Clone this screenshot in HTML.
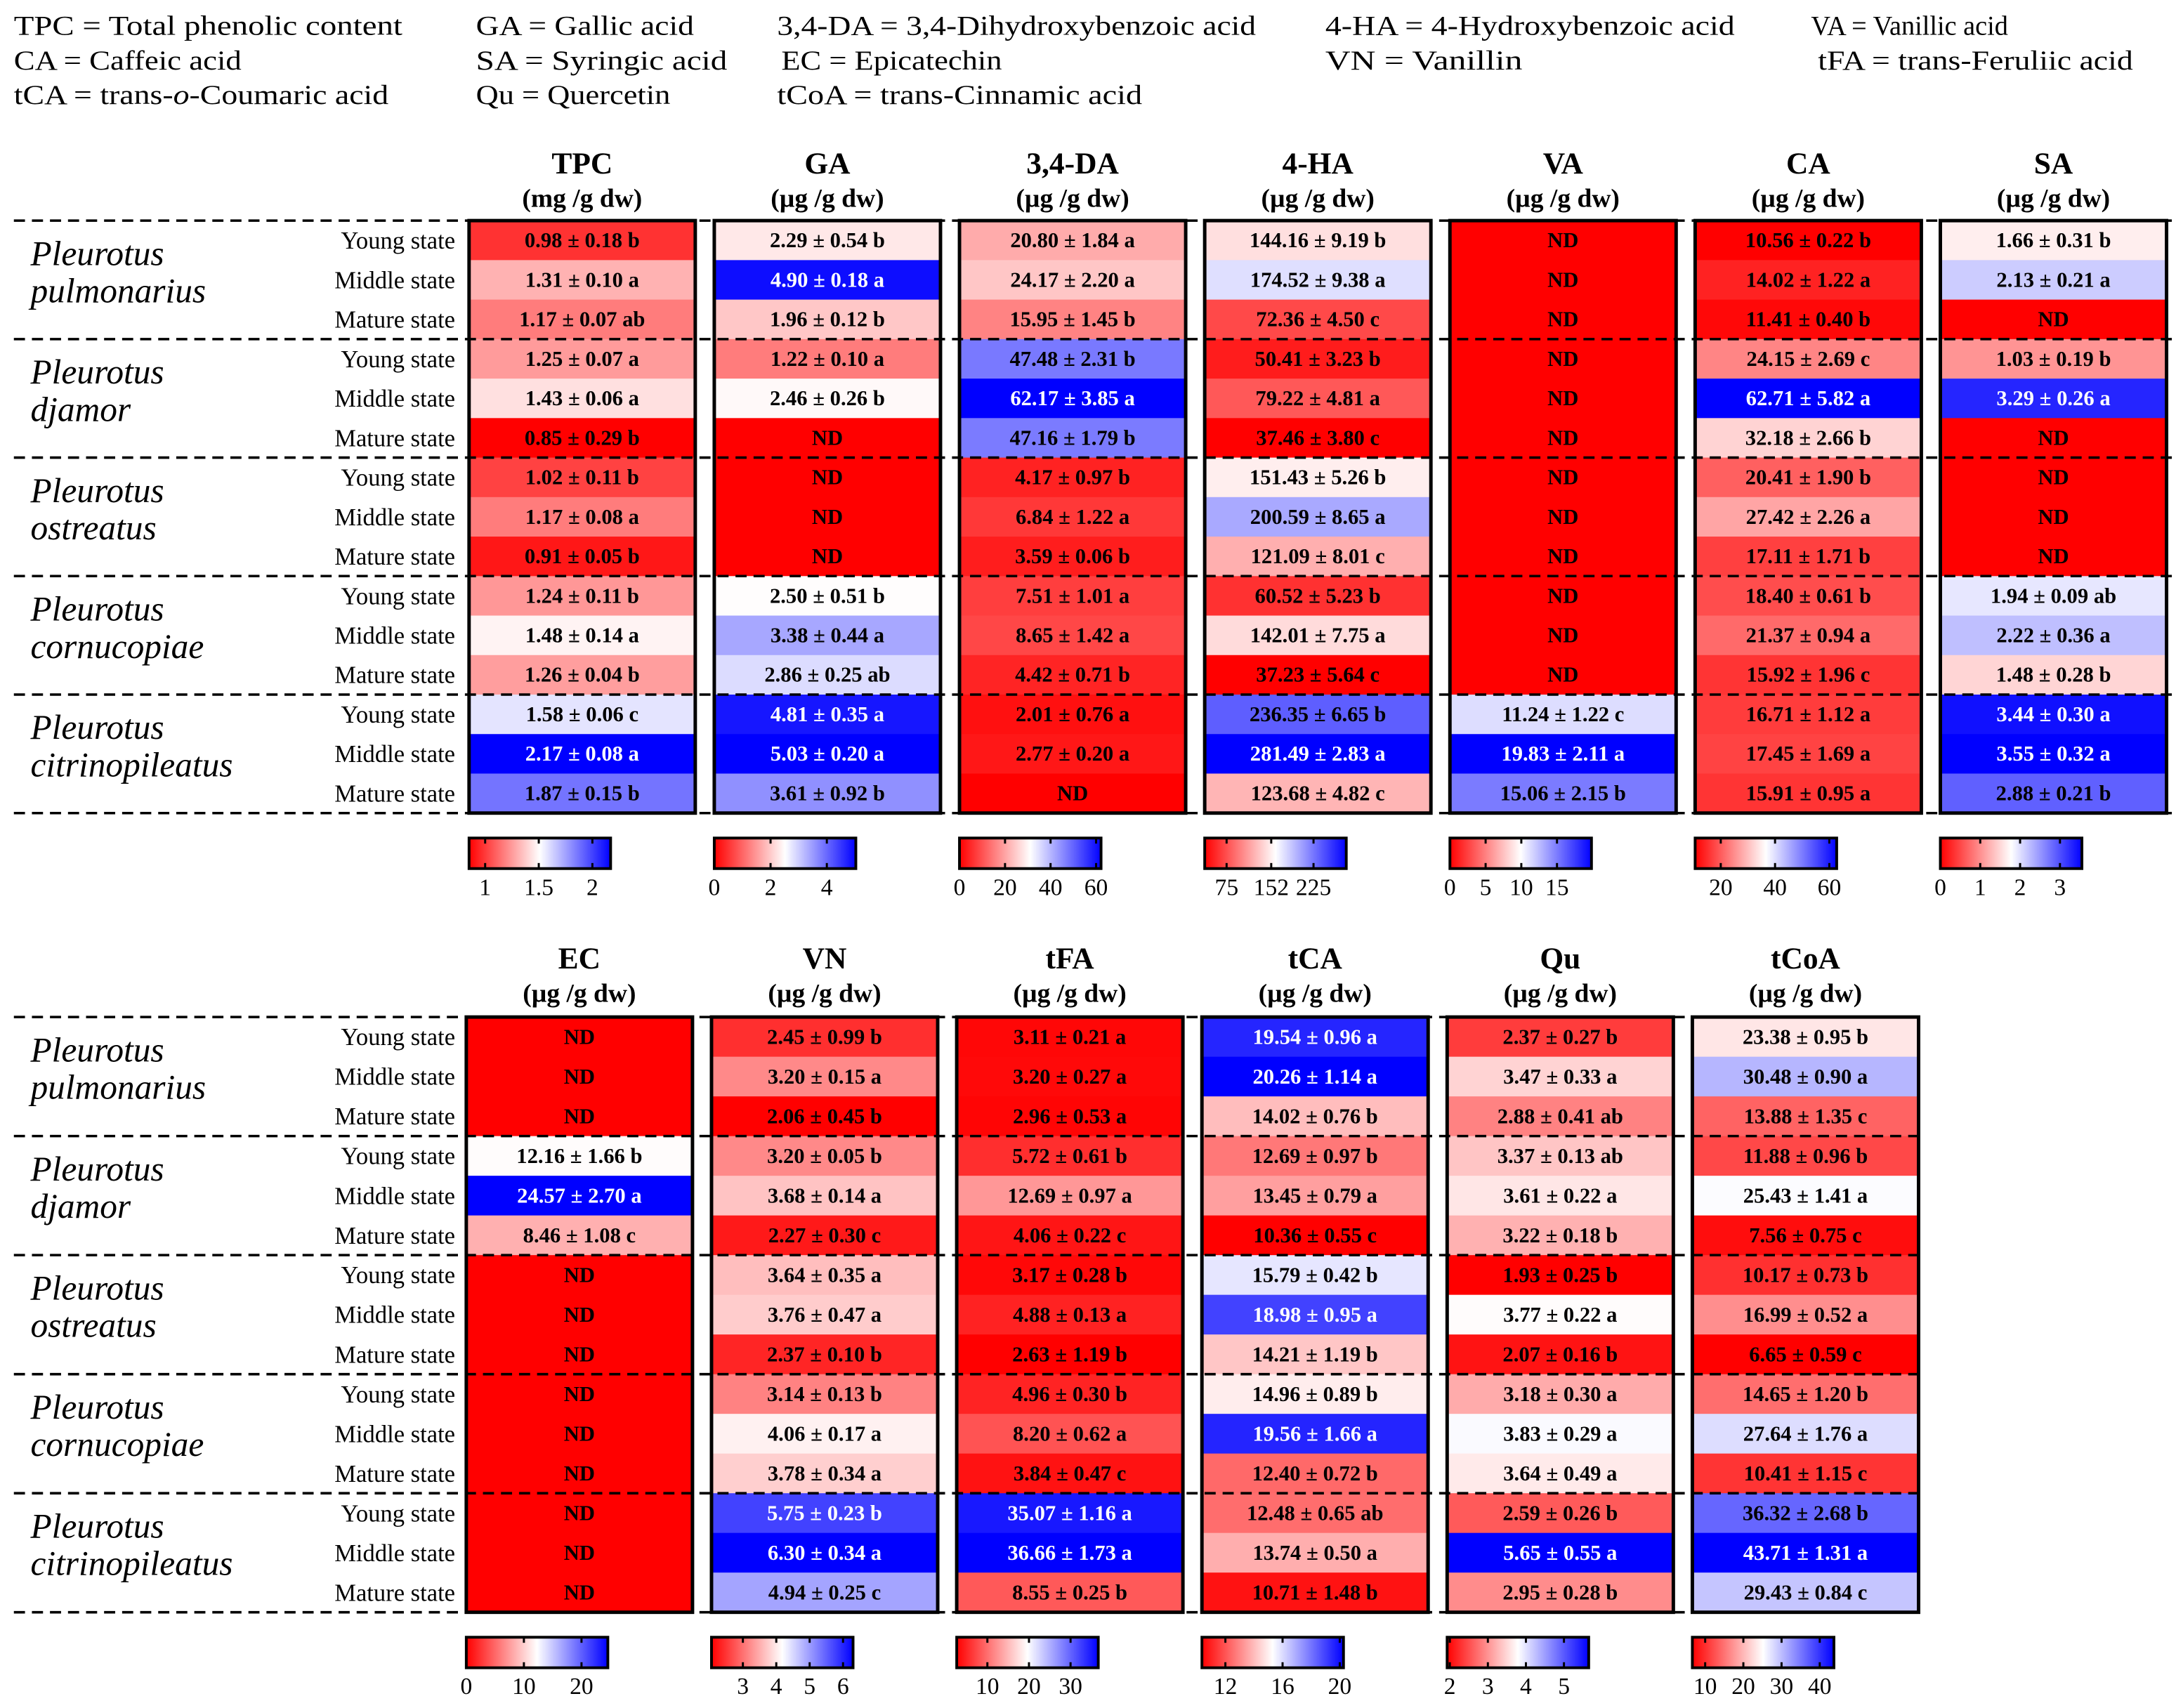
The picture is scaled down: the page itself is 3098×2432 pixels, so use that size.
<!DOCTYPE html>
<html><head><meta charset="utf-8"><style>
html,body{margin:0;padding:0;background:#fff;}
svg{display:block;}
text{font-family:"Liberation Serif",serif;}
</style></head><body>
<svg id="chart" width="3098" height="2432" viewBox="0 0 1568 1231" preserveAspectRatio="none" xmlns="http://www.w3.org/2000/svg">
<defs>
<linearGradient id="rwb" x1="0" x2="1" y1="0" y2="0">
<stop offset="0" stop-color="#ff0000"/><stop offset="0.5" stop-color="#ffffff"/><stop offset="1" stop-color="#0000ff"/>
</linearGradient>
</defs>
<g id="legend-text" font-size="20">
<text x="10" y="25" textLength="280" lengthAdjust="spacingAndGlyphs">TPC = Total phenolic content</text>
<text x="343" y="25" textLength="157" lengthAdjust="spacingAndGlyphs">GA = Gallic acid</text>
<text x="560" y="25" textLength="345" lengthAdjust="spacingAndGlyphs">3,4-DA = 3,4-Dihydroxybenzoic acid</text>
<text x="955" y="25" textLength="295" lengthAdjust="spacingAndGlyphs">4-HA = 4-Hydroxybenzoic acid</text>
<text x="1305" y="25" textLength="142" lengthAdjust="spacingAndGlyphs">VA = Vanillic acid</text>
<text x="10" y="50" textLength="164" lengthAdjust="spacingAndGlyphs">CA = Caffeic acid</text>
<text x="343" y="50" textLength="181" lengthAdjust="spacingAndGlyphs">SA =  Syringic acid</text>
<text x="563" y="50" textLength="159" lengthAdjust="spacingAndGlyphs">EC = Epicatechin</text>
<text x="955" y="50" textLength="142" lengthAdjust="spacingAndGlyphs">VN =  Vanillin</text>
<text x="1310" y="50" textLength="227" lengthAdjust="spacingAndGlyphs">tFA = trans-Feruliic acid</text>
<text x="10" y="75" textLength="270" lengthAdjust="spacingAndGlyphs">tCA = trans-<tspan font-style="italic">o</tspan>-Coumaric acid</text>
<text x="343" y="75" textLength="140" lengthAdjust="spacingAndGlyphs">Qu =  Quercetin</text>
<text x="560" y="75" textLength="263" lengthAdjust="spacingAndGlyphs">tCoA = trans-Cinnamic acid</text>
</g>
</svg>
<script>
// ---- data ----
const species = [["Pleurotus","pulmonarius"],["Pleurotus","djamor"],["Pleurotus","ostreatus"],["Pleurotus","cornucopiae"],["Pleurotus","citrinopileatus"]];
const stages = ["Young state","Middle state","Mature state"];
const colNames = ["TPC","GA","3,4-DA","4-HA","VA","CA","SA","EC","VN","tFA","tCA","Qu","tCoA"];
const colUnits = ["(mg /g dw)","(µg /g dw)","(µg /g dw)","(µg /g dw)","(µg /g dw)","(µg /g dw)","(µg /g dw)","(µg /g dw)","(µg /g dw)","(µg /g dw)","(µg /g dw)","(µg /g dw)","(µg /g dw)"];
const vTPC = ["0.98 ± 0.18 b","1.31 ± 0.10 a","1.17 ± 0.07 ab","1.25 ± 0.07 a","1.43 ± 0.06 a","0.85 ± 0.29 b","1.02 ± 0.11 b","1.17 ± 0.08 a","0.91 ± 0.05 b","1.24 ± 0.11 b","1.48 ± 0.14 a","1.26 ± 0.04 b","1.58 ± 0.06 c","2.17 ± 0.08 a","1.87 ± 0.15 b"];
const vGA = ["2.29 ± 0.54 b","4.90 ± 0.18 a","1.96 ± 0.12 b","1.22 ± 0.10 a","2.46 ± 0.26 b","ND","ND","ND","ND","2.50 ± 0.51 b","3.38 ± 0.44 a","2.86 ± 0.25 ab","4.81 ± 0.35 a","5.03 ± 0.20 a","3.61 ± 0.92 b"];
const vDA = ["20.80 ± 1.84 a","24.17 ± 2.20 a","15.95 ± 1.45 b","47.48 ± 2.31 b","62.17 ± 3.85 a","47.16 ± 1.79 b","4.17 ± 0.97 b","6.84 ± 1.22 a","3.59 ± 0.06 b","7.51 ± 1.01 a","8.65 ± 1.42 a","4.42 ± 0.71 b","2.01 ± 0.76 a","2.77 ± 0.20 a","ND"];
const vHA = ["144.16 ± 9.19 b","174.52 ± 9.38 a","72.36 ± 4.50 c","50.41 ± 3.23 b","79.22 ± 4.81 a","37.46 ± 3.80 c","151.43 ± 5.26 b","200.59 ± 8.65 a","121.09 ± 8.01 c","60.52 ± 5.23 b","142.01 ± 7.75 a","37.23 ± 5.64 c","236.35 ± 6.65 b","281.49 ± 2.83 a","123.68 ± 4.82 c"];
const vVA = ["ND","ND","ND","ND","ND","ND","ND","ND","ND","ND","ND","ND","11.24 ± 1.22 c","19.83 ± 2.11 a","15.06 ± 2.15 b"];
const vCA = ["10.56 ± 0.22 b","14.02 ± 1.22 a","11.41 ± 0.40 b","24.15 ± 2.69 c","62.71 ± 5.82 a","32.18 ± 2.66 b","20.41 ± 1.90 b","27.42 ± 2.26 a","17.11 ± 1.71 b","18.40 ± 0.61 b","21.37 ± 0.94 a","15.92 ± 1.96 c","16.71 ± 1.12 a","17.45 ± 1.69 a","15.91 ± 0.95 a"];
const vSA = ["1.66 ± 0.31 b","2.13 ± 0.21 a","ND","1.03 ± 0.19 b","3.29 ± 0.26 a","ND","ND","ND","ND","1.94 ± 0.09 ab","2.22 ± 0.36 a","1.48 ± 0.28 b","3.44 ± 0.30 a","3.55 ± 0.32 a","2.88 ± 0.21 b"];
const vEC = ["ND","ND","ND","12.16 ± 1.66 b","24.57 ± 2.70 a","8.46 ± 1.08 c","ND","ND","ND","ND","ND","ND","ND","ND","ND"];
const vVN = ["2.45 ± 0.99 b","3.20 ± 0.15 a","2.06 ± 0.45 b","3.20 ± 0.05 b","3.68 ± 0.14 a","2.27 ± 0.30 c","3.64 ± 0.35 a","3.76 ± 0.47 a","2.37 ± 0.10 b","3.14 ± 0.13 b","4.06 ± 0.17 a","3.78 ± 0.34 a","5.75 ± 0.23 b","6.30 ± 0.34 a","4.94 ± 0.25 c"];
const vFA = ["3.11 ± 0.21 a","3.20 ± 0.27 a","2.96 ± 0.53 a","5.72 ± 0.61 b","12.69 ± 0.97 a","4.06 ± 0.22 c","3.17 ± 0.28 b","4.88 ± 0.13 a","2.63 ± 1.19 b","4.96 ± 0.30 b","8.20 ± 0.62 a","3.84 ± 0.47 c","35.07 ± 1.16 a","36.66 ± 1.73 a","8.55 ± 0.25 b"];
const vTCA = ["19.54 ± 0.96 a","20.26 ± 1.14 a","14.02 ± 0.76 b","12.69 ± 0.97 b","13.45 ± 0.79 a","10.36 ± 0.55 c","15.79 ± 0.42 b","18.98 ± 0.95 a","14.21 ± 1.19 b","14.96 ± 0.89 b","19.56 ± 1.66 a","12.40 ± 0.72 b","12.48 ± 0.65 ab","13.74 ± 0.50 a","10.71 ± 1.48 b"];
const vQu = ["2.37 ± 0.27 b","3.47 ± 0.33 a","2.88 ± 0.41 ab","3.37 ± 0.13 ab","3.61 ± 0.22 a","3.22 ± 0.18 b","1.93 ± 0.25 b","3.77 ± 0.22 a","2.07 ± 0.16 b","3.18 ± 0.30 a","3.83 ± 0.29 a","3.64 ± 0.49 a","2.59 ± 0.26 b","5.65 ± 0.55 a","2.95 ± 0.28 b"];
const vTCoA = ["23.38 ± 0.95 b","30.48 ± 0.90 a","13.88 ± 1.35 c","11.88 ± 0.96 b","25.43 ± 1.41 a","7.56 ± 0.75 c","10.17 ± 0.73 b","16.99 ± 0.52 a","6.65 ± 0.59 c","14.65 ± 1.20 b","27.64 ± 1.76 a","10.41 ± 1.15 c","36.32 ± 2.68 b","43.71 ± 1.31 a","29.43 ± 0.84 c"];
const colValues = [vTPC,vGA,vDA,vHA,vVA,vCA,vSA,vEC,vVN,vFA,vTCA,vQu,vTCoA];
const tkTPC=[1,1.5,2], tkGA=[0,2,4], tkDA=[0,20,40,60], tkHA=[75,152,225], tkVA=[0,5,10,15], tkCA=[20,40,60], tkSA=[0,1,2,3];
const tkEC=[0,10,20], tkVN=[3,4,5,6], tkFA=[10,20,30], tkTCA=[12,16,20], tkQu=[2,3,4,5], tkTCoA=[10,20,30,40];
const colTicks=[tkTPC,tkGA,tkDA,tkHA,tkVA,tkCA,tkSA,tkEC,tkVN,tkFA,tkTCA,tkQu,tkTCoA];

// ---- drawing ----
const NS="http://www.w3.org/2000/svg";
const svg=document.getElementById('chart');
function mk(tag,attrs,parent){const e=document.createElementNS(NS,tag);for(const k in attrs)e.setAttribute(k,attrs[k]);(parent||svg).appendChild(e);return e;}
function num(s){return s==="ND"?0:parseFloat(s);}
function color(t){t=Math.max(0,Math.min(1,t));
  if(t<0.5){const f=t/0.5;const g=Math.round(255*f);return `rgb(255,${g},${g})`;}
  const f=(t-0.5)/0.5;const g=Math.round(255*(1-f));return `rgb(${g},${g},255)`;}

const panels=[{cols:[0,1,2,3,4,5,6],x0:338,top:159,gh:85.4,hy:125,dashEnd:1565},{cols:[7,8,9,10,11,12],x0:336,top:733,gh:85.8,hy:698,dashEnd:1383}];
const colStep=176.7, boxW=163, cbW=102, cbH=22;

panels.forEach((p,pi)=>{
  const bottom=p.top+p.gh*5;
  species.forEach((sp,gi)=>{
    const gy=p.top+gi*p.gh;
    const t1=mk('text',{x:22,y:gy+32,'font-size':25,'font-style':'italic',fill:'#000'});t1.textContent=sp[0];
    
    
    const t2=mk('text',{x:22,y:gy+59,'font-size':25,'font-style':'italic',fill:'#000'});t2.textContent=sp[1];
    
    
    stages.forEach((st,ri)=>{
      const cy=gy+p.gh/3*(ri+0.5);
      const t=mk('text',{x:328,y:cy+6,'font-size':17.5,'text-anchor':'end',fill:'#000'});t.textContent=st;
      
      
    });
  });
  p.cols.forEach((c,ci)=>{
    const x=p.x0+ci*colStep;
    const vals=colValues[c].map(num);
    const mn=Math.min(...vals), mx=Math.max(...vals);
    const sc=v=>(v-mn)/(mx-mn);
    const h1=mk('text',{x:x+boxW/2,y:p.hy,'font-size':22,'font-weight':'bold','text-anchor':'middle',fill:'#000'});h1.textContent=colNames[c];
    
    
    const h2=mk('text',{x:x+boxW/2,y:p.hy+24,'font-size':19,'font-weight':'bold','text-anchor':'middle',fill:'#000'});h2.textContent=colUnits[c];
    
    
    colValues[c].forEach((s,i)=>{
      const gi=Math.floor(i/3), ri=i%3;
      const y=p.top+gi*p.gh+p.gh/3*ri;
      const t=sc(vals[i]);
      const r=mk('rect',{x:x,y:y,width:boxW,height:p.gh/3+0.6,fill:color(t)});
      
      
      const tx=mk('text',{x:x+boxW/2,y:y+p.gh/6+5,'font-size':15.5,'font-weight':'bold','text-anchor':'middle'});
      tx.style.fill=t>0.85?'#fff':'#000';
      tx.textContent=s;
      
      
    });
    const cby=bottom+18;
    const cb=mk('rect',{x:x,y:cby,width:cbW,height:cbH,fill:'url(#rwb)',stroke:'#000','stroke-width':2});
    
    
    colTicks[c].forEach(tv=>{
      const tx=x+sc(tv)*cbW;
      mk('line',{x1:tx,x2:tx,y1:cby,y2:cby+4,stroke:'#000','stroke-width':1.5});
      mk('line',{x1:tx,x2:tx,y1:cby+cbH-4,y2:cby+cbH,stroke:'#000','stroke-width':1.5});
      const lt=mk('text',{x:tx,y:cby+cbH+19,'font-size':17,'text-anchor':'middle',fill:'#000'});lt.textContent=tv;
      
      
    });
  });
  for(let g=0;g<=5;g++){
    const y=p.top+g*p.gh;
    const l=mk('line',{x1:10,x2:p.dashEnd,y1:y,y2:y,stroke:'#000','stroke-width':1.8,'stroke-dasharray':'8,5'});
    
    
  }
  p.cols.forEach((c,ci)=>{
    const x=p.x0+ci*colStep;
    const b=mk('rect',{x:x,y:p.top,width:boxW,height:p.gh*5,fill:'none',stroke:'#000','stroke-width':2.5});
    
    
  });
});
</script>
</body></html>
